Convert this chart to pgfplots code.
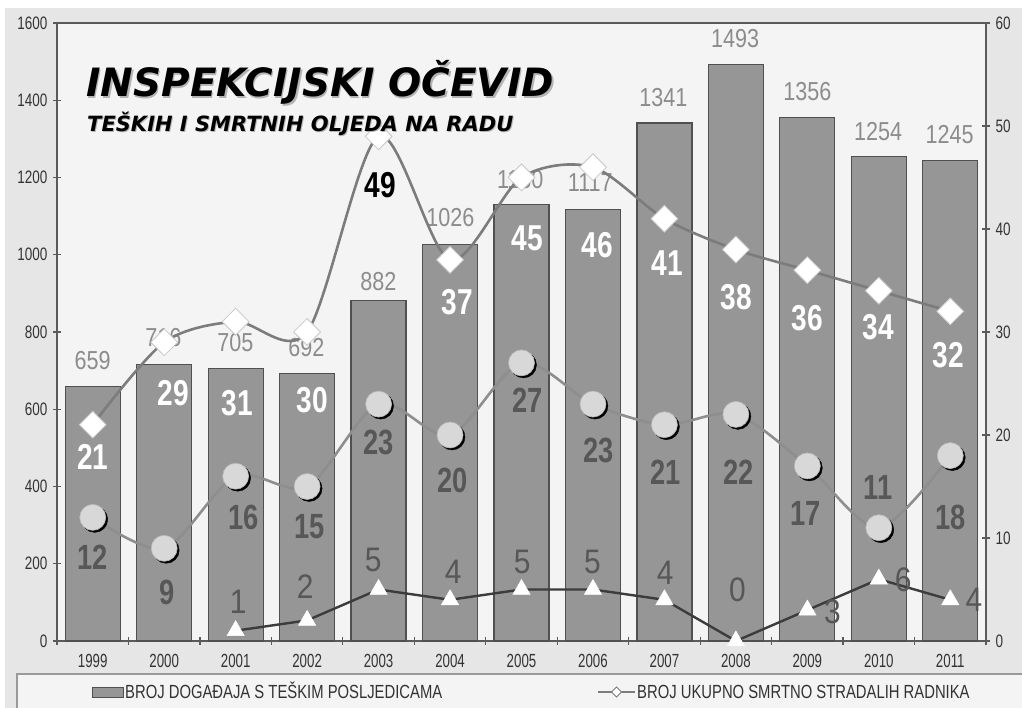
\documentclass[border=0pt]{standalone}
\usepackage{pgfplots}
\usepackage{pgfplotstable}
\pgfplotsset{compat=1.18}
\usepackage{fontspec}
\setmainfont{Liberation Sans}
\newfontfamily\tickfont[FakeStretch=0.75]{Liberation Sans}
\newfontfamily\yearfont[FakeStretch=0.70]{Liberation Sans}
\newfontfamily\legfont[FakeStretch=0.78]{Liberation Sans}
\newfontfamily\barlblfont[FakeStretch=0.83]{Liberation Sans}
\newfontfamily\biglblfont[FakeStretch=0.78]{Liberation Sans}
\newfontfamily\trifont[FakeStretch=0.88]{Liberation Sans}
\newfontfamily\titlefont{DejaVu Sans}

\definecolor{bgg}{HTML}{E6E6E6}
\definecolor{plotbg}{HTML}{F4F4F4}
\definecolor{barfill}{HTML}{969696}
\definecolor{bardraw}{HTML}{505050}
\definecolor{axgray}{HTML}{5A5A5A}
\definecolor{dialine}{HTML}{7C7C7C}
\definecolor{diaedge}{HTML}{C8C8C8}
\definecolor{cirline}{HTML}{8E8E8E}
\definecolor{cirfill}{HTML}{D8D8D8}
\definecolor{triline}{HTML}{3C3C3C}
\definecolor{barlbl}{HTML}{8C8C8C}
\definecolor{darklbl}{HTML}{575757}
\definecolor{tickc}{HTML}{333333}
\definecolor{legedge}{HTML}{9A9A9A}
\definecolor{shadowc}{HTML}{B4B4B4}

\pgfplotstableread{
x bars dia cir
0 659 21 12
1 716 29 9
2 705 31 16
3 692 30 15
4 882 49 23
5 1026 37 20
6 1130 45 27
7 1117 46 23
8 1341 41 21
9 1493 38 22
10 1356 36 17
11 1254 34 11
12 1245 32 18
}\datatable

\pgfplotstableread{
x tri
2 1
3 2
4 5
5 4
6 5
7 5
8 4
9 0
10 3
11 6
12 4
}\tritable

\begin{document}
\begin{tikzpicture}[
  bl/.style={font=\barlblfont\fontsize{26pt}{26pt}\selectfont, text=barlbl, inner sep=0pt},
  dl/.style={font=\biglblfont\bfseries\fontsize{36pt}{36pt}\selectfont, text=white, inner sep=0pt},
  cl/.style={font=\biglblfont\bfseries\fontsize{35pt}{35pt}\selectfont, text=darklbl, inner sep=0pt},
  tl/.style={font=\trifont\fontsize{34pt}{34pt}\selectfont, text=darklbl, inner sep=0pt},
]
\useasboundingbox (0pt,0pt) rectangle (1022pt,708pt);
\fill[white] (0pt,0pt) rectangle (1022pt,708pt);
\fill[bgg] (5pt,0pt) rectangle (1022pt,700pt);

\begin{axis}[
  at={(57pt,67pt)}, anchor=south west,
  width=929pt, height=618pt, scale only axis,
  xmin=-0.5, xmax=12.5, ymin=0, ymax=1600,
  axis background/.style={fill=plotbg},
  axis line style={draw=axgray, line width=1.6pt},
  ytick={0,200,...,1600},
  xtick={0,...,12},
  xticklabels={1999,2000,2001,2002,2003,2004,2005,2006,2007,2008,2009,2010,2011},
  minor xtick={-0.5,0.5,1.5,2.5,3.5,4.5,5.5,6.5,7.5,8.5,9.5,10.5,11.5,12.5},
  major x tick style={draw=none},
  minor x tick style={draw=axgray, line width=1.2pt},
  major y tick style={draw=axgray, line width=1.2pt},
  major tick length=8pt, minor tick length=8pt,
  tick align=center,
  xtick pos=bottom, ytick pos=left,
  /pgf/number format/assume math mode=true,
  /pgf/number format/1000 sep={},
  yticklabel style={font=\tickfont\fontsize{18pt}{18pt}\selectfont, text=tickc, xshift=-2pt},
  xticklabel style={font=\yearfont\fontsize{19pt}{19pt}\selectfont, text=tickc, yshift=-6pt},
  clip=false,
]
\addplot[ybar, bar width=55pt, fill=barfill, draw=bardraw, line width=1.2pt] table[x=x,y=bars]{\datatable};
\node[bl] at (axis cs:0,725) {659};
\node[bl] at (axis cs:0.987,784.5) {716};
\node[bl] at (axis cs:1.995,771.5) {705};
\node[bl] at (axis cs:2.99,758.6) {692};
\node[bl] at (axis cs:3.996,929.4) {882};
\node[bl] at (axis cs:5.003,1095) {1026};
\node[bl] at (axis cs:5.983,1193.5) {1130};
\node[bl] at (axis cs:6.963,1185.8) {1117};
\node[bl] at (axis cs:7.985,1405.8) {1341};
\node[bl] at (axis cs:8.99,1558.6) {1493};
\node[bl] at (axis cs:10.0,1421.4) {1356};
\node[bl] at (axis cs:10.99,1317.8) {1254};
\node[bl] at (axis cs:11.99,1310) {1245};
\end{axis}

\begin{axis}[
  at={(57pt,67pt)}, anchor=south west,
  width=929pt, height=618pt, scale only axis,
  xmin=-0.5, xmax=12.5, ymin=0, ymax=60,
  axis x line=none, axis y line*=right,
  axis line style={draw=axgray, line width=1.6pt, -},
  ytick={0,10,...,60},
  major y tick style={draw=axgray, line width=1.2pt},
  major tick length=8pt, tick align=center,
  /pgf/number format/assume math mode=true,
  yticklabel style={font=\tickfont\fontsize{18pt}{18pt}\selectfont, text=tickc, xshift=2pt},
  clip=false,
]
% diamond series
\addplot[smooth, draw=dialine, line width=2.6pt, mark=square*, mark size=9.5pt,
  mark options={rotate=45, fill=white, draw=diaedge, line width=0.8pt}] table[x=x,y=dia]{\datatable};
% circle series line
\addplot[smooth, draw=cirline, line width=2.6pt, no marks] table[x=x,y=cir]{\datatable};
% circle shadow
\addplot[only marks, mark=*, mark size=13pt, mark options={fill=black, draw=black, xshift=2pt, yshift=-2pt}] table[x=x,y=cir]{\datatable};
% circles
\addplot[only marks, mark=*, mark size=13pt, mark options={fill=cirfill, draw=cirfill!85!black, line width=0.6pt}] table[x=x,y=cir]{\datatable};
% triangle series
\addplot[draw=triline, line width=2.4pt, mark=triangle*, mark size=10pt,
  mark options={fill=white, draw=white, line width=0.5pt}] table[x=x,y=tri]{\tritable};

\node[dl] at (axis cs:0,17.86) {21};
\node[dl] at (axis cs:1.126,24.08) {29};
\node[dl] at (axis cs:2.022,23.11) {31};
\node[dl] at (axis cs:3.072,23.40) {30};
\node[dl,text=black] at (axis cs:4.024,44.27) {49};
\node[dl] at (axis cs:5.102,32.91) {37};
\node[dl] at (axis cs:6.082,39.13) {45};
\node[dl] at (axis cs:7.061,38.45) {46};
\node[dl] at (axis cs:8.04,36.70) {41};
\node[dl] at (axis cs:9.006,33.40) {38};
\node[dl] at (axis cs:10.0,31.36) {36};
\node[dl] at (axis cs:10.99,30.49) {34};
\node[dl] at (axis cs:11.97,27.77) {32};

\node[cl] at (axis cs:0,8.16) {12};
\node[cl] at (axis cs:1.043,4.76) {9};
\node[cl] at (axis cs:2.106,12.04) {16};
\node[cl] at (axis cs:3.03,11.07) {15};
\node[cl] at (axis cs:3.996,19.32) {23};
\node[cl] at (axis cs:5.031,15.63) {20};
\node[cl] at (axis cs:6.081,23.40) {27};
\node[cl] at (axis cs:7.075,18.54) {23};
\node[cl] at (axis cs:8.012,16.41) {21};
\node[cl] at (axis cs:9.034,16.41) {22};
\node[cl] at (axis cs:9.972,12.43) {17};
\node[cl] at (axis cs:10.99,14.95) {11};
\node[cl] at (axis cs:12.0,12.04) {18};

\node[tl] at (axis cs:2.036,3.79) {1};
\node[tl] at (axis cs:2.974,5.24) {2};
\node[tl] at (axis cs:3.926,7.86) {5};
\node[tl] at (axis cs:5.045,6.70) {4};
\node[tl] at (axis cs:6.011,7.67) {5};
\node[tl] at (axis cs:6.991,7.67) {5};
\node[tl] at (axis cs:8.012,6.60) {4};
\node[tl] at (axis cs:9.02,4.95) {0};
\node[tl] at (axis cs:10.35,2.82) {3};
\node[tl] at (axis cs:11.34,5.92) {6};
\node[tl] at (axis cs:12.33,3.98) {4};
\end{axis}

% title
\node[anchor=base west, inner sep=0pt, text=shadowc] at (87.5pt,609.5pt) {\titlefont\bfseries\itshape\fontsize{39pt}{39pt}\selectfont INSPEKCIJSKI OČEVID};
\node[anchor=base west, inner sep=0pt, text=black] at (86pt,611pt) {\titlefont\bfseries\itshape\fontsize{39pt}{39pt}\selectfont INSPEKCIJSKI OČEVID};
\node[anchor=base west, inner sep=0pt, text=shadowc] at (88pt,575pt) {\titlefont\bfseries\itshape\fontsize{21pt}{21pt}\selectfont TEŠKIH I SMRTNIH OLJEDA NA RADU};
\node[anchor=base west, inner sep=0pt, text=black] at (87pt,576pt) {\titlefont\bfseries\itshape\fontsize{21pt}{21pt}\selectfont TEŠKIH I SMRTNIH OLJEDA NA RADU};

% legend
\fill[plotbg] (17pt,-5pt) rectangle (1030pt,34pt);
\draw[legedge, line width=1.5pt] (17pt,-5pt) -- (17pt,34pt) -- (1030pt,34pt);
\filldraw[fill=barfill, draw=bardraw, line width=1pt] (92pt,10.5pt) rectangle (123pt,20.5pt);
\node[anchor=base west, inner sep=0pt, text=tickc] at (125pt,9pt) {\legfont\fontsize{19pt}{19pt}\selectfont BROJ DOGAĐAJA S TEŠKIM POSLJEDICAMA};
\draw[dialine, line width=2pt] (598pt,16pt) -- (635pt,16pt);
\filldraw[fill=white, draw=dialine, line width=0.8pt] (616.5pt,21pt) -- (621.5pt,16pt) -- (616.5pt,11pt) -- (611.5pt,16pt) -- cycle;
\node[anchor=base west, inner sep=0pt, text=tickc] at (637pt,9pt) {\legfont\fontsize{19pt}{19pt}\selectfont BROJ UKUPNO SMRTNO STRADALIH RADNIKA};
\end{tikzpicture}
\end{document}
